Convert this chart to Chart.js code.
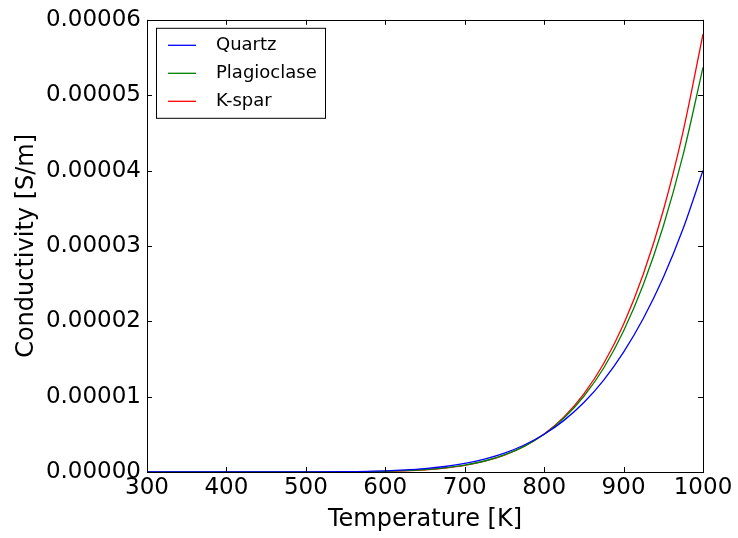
<!DOCTYPE html>
<html>
<head>
<meta charset="utf-8">
<script src="https://cdn.jsdelivr.net/npm/chart.js@4/dist/chart.umd.min.js"></script>
<style>
  html, body { margin: 0; padding: 0; background: #fff; }
  canvas { display: block; }
</style>
</head>
<body>
<canvas id="chart" width="738" height="538"></canvas>
<script>
// temperature samples [K]
const temperatures = [300, 350, 400, 450, 500, 550, 600, 625, 650, 675, 700, 725, 750, 775, 800, 825, 850, 875, 900, 925, 950, 975, 1000];

// conductivity, in micro S/m
const quartz      = [0, 0, 0.0002, 0.0015, 0.0098, 0.044, 0.156, 0.27, 0.45, 0.73, 1.13, 1.71, 2.50, 3.58, 5.00, 6.85, 9.22, 12.2, 15.9, 20.4, 25.8, 32.3, 40.0];
const plagioclase = [0, 0, 0, 0.0005, 0.004, 0.023, 0.096, 0.18, 0.32, 0.56, 0.92, 1.46, 2.27, 3.41, 5.00, 7.16, 10.05, 13.8, 18.7, 24.9, 32.6, 42.1, 53.7];
const kspar       = [0, 0, 0, 0.0004, 0.0033, 0.020, 0.086, 0.165, 0.30, 0.53, 0.88, 1.43, 2.24, 3.41, 5.05, 7.31, 10.36, 14.4, 19.6, 26.3, 34.7, 45.2, 58.1];

const seriesNames = ['Quartz', 'Plagioclase', 'K-spar'];
const xTicks = [300, 400, 500, 600, 700, 800, 900, 1000];
const yTicks = [0, 0.00001, 0.00002, 0.00003, 0.00004, 0.00005, 0.00006];

const MICRO = 1e-6;
const FONT = 'DejaVu Sans';

const toPoints = (vals) => temperatures.map((t, i) => ({ x: t, y: vals[i] * MICRO }));

// frame + inward ticks on all four sides, matplotlib classic look
const framePlugin = {
  id: 'frame',
  afterDatasetsDraw(chart) {
    const { ctx, chartArea: a, scales } = chart;
    const len = 5;
    ctx.save();
    ctx.strokeStyle = '#000';
    ctx.lineWidth = 1;
    ctx.beginPath();
    xTicks.forEach((v) => {
      const px = Math.round(scales.x.getPixelForValue(v)) + 0.5;
      ctx.moveTo(px, a.bottom); ctx.lineTo(px, a.bottom - len);
      ctx.moveTo(px, a.top); ctx.lineTo(px, a.top + len);
    });
    yTicks.forEach((v) => {
      const py = Math.round(scales.y.getPixelForValue(v)) + 0.5;
      ctx.moveTo(a.left, py); ctx.lineTo(a.left + len, py);
      ctx.moveTo(a.right, py); ctx.lineTo(a.right - len, py);
    });
    ctx.stroke();
    ctx.strokeRect(Math.round(a.left) + 0.5, Math.round(a.top) + 0.5,
      Math.round(a.right - a.left), Math.round(a.bottom - a.top));
    ctx.restore();
  },
};

// legend box in the upper left corner of the axes
const legendPlugin = {
  id: 'boxLegend',
  afterDraw(chart) {
    const { ctx, chartArea: a } = chart;
    const x0 = a.left + 9, y0 = a.top + 8;
    const w = 169, h = 90, row = 28;
    ctx.save();
    ctx.fillStyle = '#fff';
    ctx.fillRect(x0, y0, w, h);
    ctx.strokeStyle = '#000';
    ctx.lineWidth = 1;
    ctx.strokeRect(x0 + 0.5, y0 + 0.5, w, h);
    ctx.font = '18px "' + FONT + '"';
    ctx.textBaseline = 'middle';
    chart.data.datasets.forEach((ds, i) => {
      const y = y0 + 17 + i * row;
      ctx.strokeStyle = ds.borderColor;
      ctx.lineWidth = 1.3;
      ctx.beginPath();
      ctx.moveTo(x0 + 12, y + 0.5);
      ctx.lineTo(x0 + 40, y + 0.5);
      ctx.stroke();
      ctx.fillStyle = '#000';
      ctx.fillText(ds.label, x0 + 60, y + 1);
    });
    ctx.restore();
  },
};

const ctx = document.getElementById('chart').getContext('2d');
new Chart(ctx, {
  type: 'line',
  data: {
    datasets: [
      { label: seriesNames[0], data: toPoints(quartz), borderColor: '#0000ff' },
      { label: seriesNames[1], data: toPoints(plagioclase), borderColor: '#008000' },
      { label: seriesNames[2], data: toPoints(kspar), borderColor: '#ff0000' },
    ],
  },
  options: {
    responsive: false,
    animation: false,
    layout: { padding: { left: 0, right: 35, top: 17, bottom: 0 } },
    elements: {
      point: { radius: 0 },
      line: { borderWidth: 1.3, cubicInterpolationMode: 'monotone', fill: false },
    },
    plugins: {
      legend: { display: false },
      tooltip: { enabled: false },
    },
    scales: {
      x: {
        type: 'linear',
        min: 300,
        max: 1000,
        afterBuildTicks: (scale) => { scale.ticks = xTicks.map((v) => ({ value: v })); },
        afterFit: (scale) => { scale.height = 66; },
        grid: { display: false, drawTicks: false },
        border: { display: false },
        ticks: {
          color: '#000',
          font: { family: FONT, size: 23 },
          padding: 2,
          maxRotation: 0,
          autoSkip: false,
          callback: (v) => String(v),
        },
        title: {
          display: true,
          text: 'Temperature [K]',
          color: '#000',
          font: { family: FONT, size: 24 },
          padding: { top: 0, bottom: 4 },
        },
      },
      y: {
        type: 'linear',
        min: 0,
        max: 0.00006,
        afterBuildTicks: (scale) => { scale.ticks = yTicks.map((v) => ({ value: v })); },
        afterFit: (scale) => { scale.width = 147; },
        grid: { display: false, drawTicks: false },
        border: { display: false },
        ticks: {
          color: '#000',
          font: { family: FONT, size: 23 },
          padding: 6,
          autoSkip: false,
          callback: (v) => Number(v).toFixed(5),
        },
        title: {
          display: true,
          text: 'Conductivity [S/m]',
          color: '#000',
          font: { family: FONT, size: 24 },
          padding: { top: 12, bottom: 0 },
        },
      },
    },
  },
  plugins: [framePlugin, legendPlugin],
});
</script>
</body>
</html>
